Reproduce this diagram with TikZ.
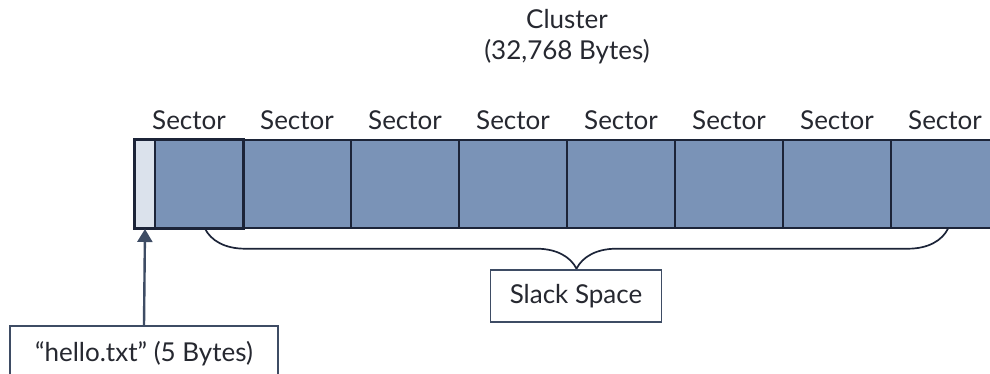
\documentclass[tikz,border=0pt]{standalone}
\usepackage{fontspec}
\setmainfont{Lato}
\usepackage{xcolor}
\usetikzlibrary{arrows.meta,positioning,calc,decorations.pathreplacing}
\definecolor{sector-fill}{RGB}{122,147,183}
\definecolor{file-fill}{RGB}{219,226,236}
\definecolor{edge-dark}{RGB}{28,36,56}
\definecolor{label-box}{RGB}{62,76,100}
\definecolor{text-dark}{RGB}{38,40,48}

\tikzset{
  sectorbox/.style={draw=edge-dark, fill=sector-fill, line width=1.4pt,
    minimum width=108pt, minimum height=88pt, inner sep=0pt},
  filebox/.style={draw=edge-dark, fill=file-fill, line width=2pt,
    minimum width=20pt, minimum height=88pt, inner sep=0pt},
  tagbox/.style={draw=label-box, fill=white, line width=1.8pt, inner sep=0pt,
    font=\fontsize{26}{31}\selectfont, text=text-dark},
  seclabel/.style={font=\fontsize{26}{31}\selectfont, text=text-dark}
}

\begin{document}
\begin{tikzpicture}[x=1pt, y=-1pt]
  \useasboundingbox (0,0) rectangle (990,374);

  % Cluster title
  \node[seclabel, align=center] (cluster) at (567,37) {Cluster\\(32,768 Bytes)};

  % Sectors
  \foreach \i in {1,...,8} {
    \node[sectorbox] (sec\i) at ({189+108*(\i-1)},184) {};
    \node[seclabel] (lab\i) at ({189+108*(\i-1)},120) {Sector};
  }
  \draw[edge-dark, line width=2.2pt] (sec1.north west) rectangle (sec1.south east);

  % File data
  \node[filebox] (file) at (145,184) {};

  % Slack space brace
  \coordinate (bl) at ([xshift=16pt]sec1.south);
  \coordinate (br) at ([xshift=3pt]sec8.south);
  \draw[edge-dark, line width=1.7pt, decorate,
    decoration={brace, mirror, amplitude=40pt}] (bl) -- (br);
  \node[tagbox, minimum width=171pt, minimum height=52pt] (slack) at (576,296) {Slack Space};

  % File label
  \node[tagbox, minimum width=268pt, minimum height=56pt] (hello) at (144,354) {``hello.txt'' (5 Bytes)};
  \draw[-{Triangle[length=13pt,width=15pt]}, label-box, line width=2.4pt] (hello.north) -- (file.south);
\end{tikzpicture}
\end{document}
